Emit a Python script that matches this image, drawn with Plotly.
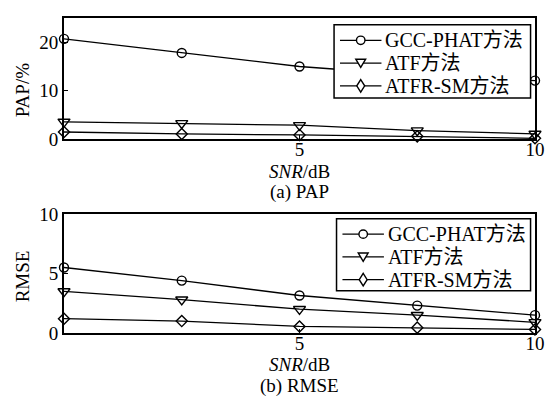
import plotly.graph_objects as go

snr = [0, 2.5, 5, 7.5, 10]
names = ["GCC-PHAT方法", "ATF方法", "ATFR-SM方法"]
pap_gcc = [20.7, 17.8, 15.0, 13.2, 12.1]
pap_atf = [3.6, 3.3, 2.9, 1.8, 1.1]
pap_atfr = [1.5, 1.1, 0.9, 0.6, 0.2]
rmse_gcc = [5.5, 4.4, 3.15, 2.3, 1.5]
rmse_atf = [3.5, 2.8, 2.0, 1.5, 0.9]
rmse_atfr = [1.2, 1.0, 0.55, 0.45, 0.3]

symbols = ["circle-open", "triangle-down-open", "diamond-open"]
msizes = [9, 10.5, 8.5]

FONT = "Liberation Serif, Times New Roman, Noto Sans CJK SC, serif"
fig = go.Figure()

for i, (ys, nm) in enumerate(zip([pap_gcc, pap_atf, pap_atfr], names)):
    fig.add_trace(go.Scatter(x=snr, y=ys, name=nm, mode="lines+markers",
                             line=dict(color="black", width=1.3),
                             marker=dict(symbol=symbols[i], size=msizes[i], color="black",
                                         line=dict(width=1.4, color="black")),
                             xaxis="x", yaxis="y", showlegend=False, cliponaxis=False))
for i, (ys, nm) in enumerate(zip([rmse_gcc, rmse_atf, rmse_atfr], names)):
    fig.add_trace(go.Scatter(x=snr, y=ys, name=nm, mode="lines+markers",
                             line=dict(color="black", width=1.3),
                             marker=dict(symbol=symbols[i], size=msizes[i], color="black",
                                         line=dict(width=1.4, color="black")),
                             xaxis="x2", yaxis="y2", showlegend=False, cliponaxis=False))

ax_common = dict(showline=True, mirror=True, linecolor="black", linewidth=1.8,
                 ticks="inside", ticklen=4, tickcolor="black", showgrid=False, zeroline=False,
                 tickfont=dict(family=FONT, size=19, color="black"))

fig.update_layout(
    width=553, height=402,
    margin=dict(l=64, r=12, t=8, b=69),
    paper_bgcolor="white", plot_bgcolor="white",
    font=dict(family=FONT, size=19, color="black"),
    xaxis=dict(domain=[0, 1], range=[0, 10], tickvals=[5, 10], anchor="y",
               ticklabelstandoff=-8, **ax_common),
    yaxis=dict(domain=[0.615, 1], range=[0, 25], tickvals=[0, 10, 20], anchor="x", **ax_common),
    xaxis2=dict(domain=[0, 1], range=[0, 10], tickvals=[5, 10], anchor="y2",
                ticklabelstandoff=-8, **ax_common),
    yaxis2=dict(domain=[0, 0.378], range=[0, 10], tickvals=[0, 5, 10], anchor="x2", **ax_common),
    showlegend=False,
)

def px_to_paper_y(py):
    return (333 - py) / 325

def px_to_paper_x(px):
    return (px - 64) / 477

def path_px(points):
    segs = []
    for k, (a, b) in enumerate(points):
        segs.append(("M" if k == 0 else "L") + f"{px_to_paper_x(a):.5f},{px_to_paper_y(b):.5f}")
    return " ".join(segs) + " Z"

# custom legends (box left, box right, box top, box bottom)
legend_boxes = [(337.5, 536.5, 15, 90.5), (340, 536.5, 215, 289.5)]
row_offsets = [16, 39.5, 63]
for (bl, br, bt, bb) in legend_boxes:
    fig.add_shape(type="rect", xref="paper", yref="paper",
                  x0=px_to_paper_x(bl), x1=px_to_paper_x(br),
                  y0=px_to_paper_y(bb), y1=px_to_paper_y(bt),
                  fillcolor="white", line=dict(color="black", width=1.5), layer="above")
    for k, nm in enumerate(names):
        cy = bt + row_offsets[k]
        cx = bl + 27
        fig.add_shape(type="line", xref="paper", yref="paper",
                      x0=px_to_paper_x(bl + 6), x1=px_to_paper_x(bl + 48),
                      y0=px_to_paper_y(cy), y1=px_to_paper_y(cy),
                      line=dict(color="black", width=1.3), layer="above")
        if k == 0:
            fig.add_shape(type="circle", xref="paper", yref="paper",
                          x0=px_to_paper_x(cx - 4.3), x1=px_to_paper_x(cx + 4.3),
                          y0=px_to_paper_y(cy + 4.3), y1=px_to_paper_y(cy - 4.3),
                          fillcolor="white", line=dict(color="black", width=1.4), layer="above")
        elif k == 1:
            fig.add_shape(type="path", xref="paper", yref="paper",
                          path=path_px([(cx - 5, cy - 4), (cx + 5, cy - 4), (cx, cy + 4.5)]),
                          fillcolor="white", line=dict(color="black", width=1.4), layer="above")
        else:
            fig.add_shape(type="path", xref="paper", yref="paper",
                          path=path_px([(cx, cy - 6.5), (cx + 4, cy), (cx, cy + 6.5), (cx - 4, cy)]),
                          fillcolor="white", line=dict(color="black", width=1.4), layer="above")
        fig.add_annotation(text=nm, x=px_to_paper_x(bl + 50), y=px_to_paper_y(cy),
                           xref="paper", yref="paper", showarrow=False,
                           xanchor="left", yanchor="middle",
                           font=dict(family=FONT, size=20, color="black"))

annos = [
    ("<i>SNR</i>/dB", 303, 166, 0),
    ("(a) PAP", 303, 188, 0),
    ("<i>SNR</i>/dB", 303, 366, 0),
    ("(b) RMSE", 303, 388, 0),
    ("PAP/%", 22, 83, -90),
    ("RMSE", 22, 275, -90),
]
for txt, px, py, ang in annos:
    fig.add_annotation(text=txt, x=px_to_paper_x(px), y=px_to_paper_y(py), xref="paper", yref="paper",
                       showarrow=False, xanchor="center", yanchor="middle", textangle=ang,
                       font=dict(family=FONT, size=19, color="black"))

fig.write_html("out.html")
